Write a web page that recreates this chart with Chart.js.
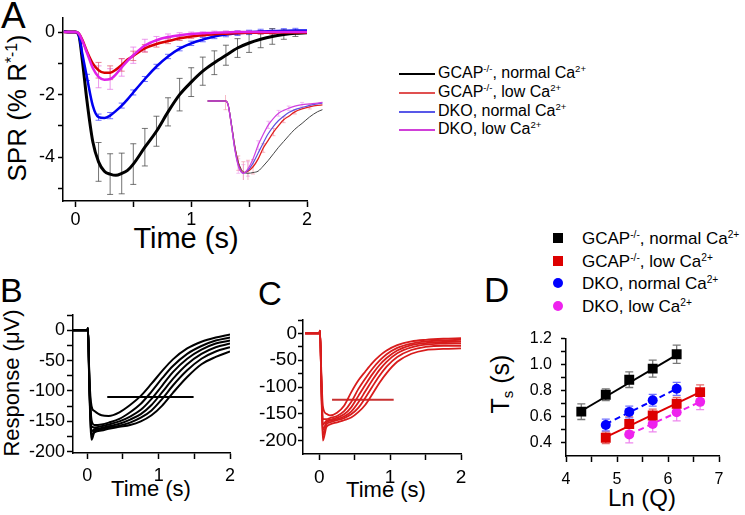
<!DOCTYPE html>
<html>
<head>
<meta charset="utf-8">
<script src="https://cdn.jsdelivr.net/npm/chart.js@4.4.0/dist/chart.umd.min.js"></script>
<style>
  body { margin: 0; width: 745px; height: 515px; overflow: hidden; position: relative; background: #fff;
         font-family: "Liberation Sans", Arial, Helvetica, sans-serif; color: #000; }
  canvas { position: absolute; }
  .t { position: absolute; white-space: nowrap; line-height: 1; }
  .rot { transform: translate(-50%, -50%) rotate(-90deg); }
  sup { font-size: 0.6em; vertical-align: 0.6em; line-height: 0; }
  sub { font-size: 0.6em; vertical-align: -0.3em; line-height: 0; }
  .ln { position: absolute; left: 399px; width: 36px; height: 1.5px; }
  .mk { position: absolute; width: 10px; height: 10px; }
</style>
</head>
<body>
<!-- panel letters -->
<div class="t" style="left:1px;top:-3px;font-size:37px">A</div>
<div class="t" style="left:0px;top:273px;font-size:34px">B</div>
<div class="t" style="left:258px;top:277px;font-size:33px">C</div>
<div class="t" style="left:484px;top:272px;font-size:35px">D</div>

<!-- axis titles -->
<div class="t rot" style="left:17px;top:108px;font-size:26px">SPR (% R<sup>*-1</sup>)</div>
<div class="t" style="left:86px;top:224px;width:200px;text-align:center;font-size:29px">Time (s)</div>
<div class="t rot" style="left:12px;top:383px;font-size:22px">Response (μV)</div>
<div class="t" style="left:51px;top:478px;width:200px;text-align:center;font-size:22px">Time (s)</div>
<div class="t" style="left:286px;top:479px;width:200px;text-align:center;font-size:22px">Time (s)</div>
<div class="t" style="left:542px;top:486px;width:200px;text-align:center;font-size:24px">Ln (Q)</div>
<div class="t rot" style="left:500px;top:384px;font-size:25px">T<sub>s</sub> (s)</div>

<!-- legend A -->
<div class="ln" style="top:73px;background:#000"></div>
<div class="t" style="left:438px;top:65px;font-size:16px">GCAP<sup>-/-</sup>, normal Ca<sup>2+</sup></div>
<div class="ln" style="top:92px;background:#e05050"></div>
<div class="t" style="left:438px;top:84px;font-size:16px">GCAP<sup>-/-</sup>, low Ca<sup>2+</sup></div>
<div class="ln" style="top:111px;background:#5858e8"></div>
<div class="t" style="left:438px;top:103px;font-size:16px">DKO, normal Ca<sup>2+</sup></div>
<div class="ln" style="top:129px;background:#d040d8"></div>
<div class="t" style="left:438px;top:121px;font-size:16px">DKO, low Ca<sup>2+</sup></div>

<!-- legend D -->
<div class="mk" style="left:553px;top:233px;background:#000"></div>
<div class="t" style="left:582px;top:230px;font-size:17px">GCAP<sup>-/-</sup>, normal Ca<sup>2+</sup></div>
<div class="mk" style="left:553px;top:256px;background:#dd0000"></div>
<div class="t" style="left:582px;top:253px;font-size:17px">GCAP<sup>-/-</sup>, low Ca<sup>2+</sup></div>
<div class="mk" style="left:553px;top:278px;background:#0000ff;border-radius:50%"></div>
<div class="t" style="left:582px;top:275px;font-size:17px">DKO, normal Ca<sup>2+</sup></div>
<div class="mk" style="left:553px;top:301px;background:#ee22ee;border-radius:50%"></div>
<div class="t" style="left:582px;top:298px;font-size:17px">DKO, low Ca<sup>2+</sup></div>

<canvas id="chartA" width="330" height="232" style="left:0;top:0"></canvas>
<canvas id="chartInset" width="125" height="85" style="left:200px;top:95px"></canvas>
<canvas id="chartB" width="250" height="185" style="left:0;top:300px"></canvas>
<canvas id="chartC" width="230" height="185" style="left:255px;top:300px"></canvas>
<canvas id="chartD" width="225" height="170" style="left:520px;top:320px"></canvas>

<script>
// ---- Panel A: single photon responses (% R*-1) ----
const tA = [-0.1, -0.05, 0, 0.03, 0.06, 0.1, 0.15, 0.2, 0.25, 0.3, 0.35, 0.4, 0.45, 0.5, 0.6, 0.7,
            0.8, 0.9, 1.0, 1.1, 1.2, 1.3, 1.4, 1.5, 1.6, 1.7, 1.8, 1.9, 2.0];
const gcapNormal = [0.02, 0, 0, -0.1, -0.9, -2.2, -3.5, -4.15, -4.45, -4.54, -4.58, -4.52, -4.42, -4.22, -3.68, -3.17,
                    -2.55, -2.0, -1.6, -1.25, -0.98, -0.74, -0.51, -0.35, -0.23, -0.14, -0.08, -0.04, -0.02];
const gcapNormalErr = [null, null, null, null, null, null, null, 0.62, null, 0.65, null, 0.65, null, 0.65, 0.6, 0.48,
                       0.45, 0.52, 0.46, 0.45, 0.38, 0.32, 0.3, 0.3, 0.27, 0.25, 0.15, 0.1, null];
const gcapLow = [0, 0, 0, -0.05, -0.25, -0.62, -1.0, -1.22, -1.3, -1.3, -1.2, -1.05, -0.88, -0.76, -0.52, -0.38,
                 -0.29, -0.2, -0.14, -0.1, -0.07, -0.05, -0.03, -0.02, -0.02, -0.02, -0.01, -0.01, -0.01];
const gcapLowErr = [null, null, null, null, null, null, null, 0.25, null, 0.22, null, 0.2, null, 0.15, 0.12, 0.1,
                    0.08, 0.07, 0.06, 0.05, 0.05, 0.05, 0.05, 0.05, 0.05, 0.05, 0.05, 0.05, null];
const dkoNormal = [0.02, 0, 0, -0.1, -0.7, -1.45, -2.35, -2.72, -2.75, -2.67, -2.52, -2.35, -2.15, -1.93, -1.5, -1.1,
                   -0.78, -0.53, -0.36, -0.24, -0.14, -0.08, -0.04, -0.01, 0.02, 0.03, 0.04, 0.05, 0.05];
const dkoNormalErr = [null, null, null, null, null, 0.1, null, 0.1, null, 0.1, null, 0.08, null, 0.08, 0.08, 0.07,
                      0.07, 0.07, 0.07, 0.07, 0.07, 0.07, 0.07, 0.07, 0.07, 0.07, 0.07, 0.07, null];
const dkoLow = [0, 0, 0, -0.05, -0.28, -0.66, -1.15, -1.43, -1.52, -1.5, -1.35, -1.13, -0.92, -0.74, -0.43, -0.26,
                -0.16, -0.1, -0.06, -0.04, -0.02, -0.01, 0, 0, 0, 0, 0, 0, 0];
const dkoLowErr = [null, null, null, null, null, null, null, 0.35, null, 0.33, null, 0.28, null, 0.26, 0.2, 0.12,
                   0.1, 0.08, 0.06, 0.05, 0.05, 0.05, 0.05, 0.05, 0.05, 0.05, 0.05, 0.05, null];

// inset: normalised responses
const tInset = [-0.35, -0.2, 0, 0.05, 0.12, 0.18, 0.25, 0.35, 0.44, 0.54, 0.64, 0.74, 0.84, 0.94, 1.04,
                1.14, 1.24, 1.36, 1.5, 1.65, 1.8, 1.9];
const insetGcapNormal = [0, 0, 0, -0.05, -0.33, -0.61, -0.84, -0.98, -1.0, -0.99, -0.97, -0.9, -0.82, -0.73, -0.64,
                         -0.56, -0.48, -0.39, -0.31, -0.22, -0.15, -0.12];
const insetGcapLow = [0, 0, 0, -0.05, -0.35, -0.63, -0.86, -0.99, -0.97, -0.91, -0.8, -0.65, -0.54, -0.43, -0.34,
                      -0.26, -0.21, -0.15, -0.11, -0.08, -0.06, -0.055];
const insetGcapLowErr = [null, null, 0.12, null, null, null, 0.1, 0.15, 0.15, 0.1, null, 0.06, null, 0.05, null,
                         0.04, null, 0.03, null, 0.03, null, null];
const insetDkoNormal = [0, 0, 0, -0.05, -0.35, -0.65, -0.88, -1.0, -0.96, -0.86, -0.72, -0.58, -0.45, -0.35, -0.27,
                        -0.21, -0.16, -0.12, -0.09, -0.06, -0.04, -0.03];
const insetDkoLow = [0, 0, 0, -0.05, -0.36, -0.66, -0.9, -1.0, -0.94, -0.8, -0.61, -0.46, -0.33, -0.24, -0.17,
                     -0.13, -0.1, -0.07, -0.05, -0.04, -0.03, -0.02];
const insetDkoLowErr = [null, null, null, null, null, null, 0.1, 0.12, 0.1, null, 0.06, null, 0.05, null, 0.04,
                        null, 0.03, null, 0.03, null, null, null];

// ---- Panel B: GCAP-/- flash responses (uV), normal Ca ----
const tB = [-0.2, 0, 0.01, 0.03, 0.06, 0.1, 0.2, 0.3, 0.45, 0.6, 0.75, 0.9, 1.05, 1.2, 1.4, 1.6, 1.8, 2.0];
const respB1 = [0, 0, 3, -80, -125, -133, -140, -141, -135, -123, -108, -88, -67, -48, -30, -19, -12, -7];
const respB2 = [0, 0, 3, -85, -148, -156, -155, -152, -146, -135, -121, -101, -79, -59, -39, -26, -17, -12];
const respB3 = [0, 0, 3, -90, -158, -160, -158, -155, -150, -142, -131, -113, -91, -69, -47, -32, -22, -17];
const respB4 = [0, 0, 3, -95, -166, -163, -161, -158, -154, -147, -138, -123, -102, -80, -56, -39, -28, -22];
const respB5 = [0, 0, 3, -95, -173, -166, -163, -160, -157, -152, -144, -132, -113, -91, -66, -47, -35, -28];
const respB6 = [0, 0, 3, -100, -180, -168, -165, -162, -159, -156, -150, -140, -124, -103, -77, -56, -44, -35];
const critB = [[0.28, -110], [1.49, -110]];

// ---- Panel C: GCAP-/- flash responses (uV), low Ca ----
const tC = [-0.2, 0, 0.01, 0.03, 0.05, 0.1, 0.15, 0.25, 0.35, 0.45, 0.55, 0.65, 0.75, 0.85, 0.95, 1.1, 1.3, 1.5, 1.75, 2.0];
const respC1 = [0, 0, 5, -80, -135, -150, -153, -148, -135, -110, -88, -71, -55, -42, -32, -22, -15, -12, -10, -9];
const respC2 = [0, 0, 5, -90, -160, -160, -158, -154, -145, -128, -104, -84, -66, -51, -39, -27, -19, -15, -13, -12];
const respC3 = [0, 0, 5, -95, -170, -163, -161, -157, -151, -138, -117, -96, -76, -59, -46, -32, -22, -18, -16, -15.5];
const respC4 = [0, 0, 5, -100, -180, -166, -163, -160, -155, -146, -129, -108, -87, -68, -53, -37, -26, -21, -19, -18.5];
const respC5 = [0, 0, 5, -100, -190, -170, -166, -162, -158, -151, -139, -120, -99, -79, -62, -44, -31, -25, -23, -23];
const respC6 = [0, 0, 5, -105, -200, -175, -170, -166, -162, -157, -147, -133, -113, -92, -74, -53, -38, -31, -29, -28];
const critC = [[0.18, -124], [1.05, -124]];

// ---- Panel D: saturation time vs Ln(Q) ----
const lnQGcapNormal = [4.3, 4.78, 5.24, 5.7, 6.17];
const tsGcapNormal = [0.64, 0.77, 0.885, 0.97, 1.08];
const tsGcapNormalErr = [0.06, 0.045, 0.06, 0.065, 0.07];
const lnQGcapLow = [4.78, 5.24, 5.7, 6.17, 6.63];
const tsGcapLow = [0.44, 0.545, 0.61, 0.7, 0.79];
const tsGcapLowErr = [0.045, 0.055, 0.05, 0.05, 0.055];
const lnQDkoNormal = [4.78, 5.24, 5.7, 6.17];
const tsDkoNormal = [0.537, 0.638, 0.728, 0.815];
const tsDkoNormalErr = [0.045, 0.045, 0.045, 0.05];
const lnQDkoLow = [5.24, 5.7, 6.17, 6.63];
const tsDkoLow = [0.465, 0.545, 0.635, 0.715];
const tsDkoLowErr = [0.065, 0.06, 0.065, 0.06];
const fitGcapNormal = [[4.3, 0.645], [6.17, 1.075]];
const fitGcapLow = [[4.78, 0.445], [6.63, 0.79]];
const fitDkoNormal = [[4.78, 0.545], [6.17, 0.815]];
const fitDkoLow = [[5.24, 0.465], [6.63, 0.715]];

// ticks
const ticksTimeAX = [0, 0.5, 1, 1.5, 2], labelsTimeAX = [0, 1, 2];
const ticksSprY = [-5, -4, -3, -2, -1, 0], labelsSprY = [0, -2, -4];
const ticksTimeBX = [0, 0.5, 1, 1.5, 2], labelsTimeBX = [0, 1, 2];
const ticksRespY = [25, 0, -25, -50, -75, -100, -125, -150, -175, -200], labelsRespY = [0, -50, -100, -150, -200];
const ticksLnQ = [4, 4.5, 5, 5.5, 6, 6.5, 7], labelsLnQ = [4, 5, 6, 7];
const ticksTs = [0.4, 0.5, 0.6, 0.7, 0.8, 0.9, 1.0, 1.1, 1.2], labelsTs = [0.4, 0.6, 0.8, 1.0, 1.2];

Chart.defaults.font.family = "'Liberation Sans', Arial, Helvetica, sans-serif";
Chart.defaults.color = '#000';
Chart.defaults.animation = false;
Chart.defaults.plugins.legend.display = false;
Chart.defaults.plugins.tooltip.enabled = false;

const pts = (xs, ys) => xs.map((x, i) => ({ x, y: ys[i] }));
const pairs = arr => arr.map(p => ({ x: p[0], y: p[1] }));

// vertical error bars with caps, drawn under the datasets
const errorBars = {
  id: 'errorBars',
  beforeDatasetsDraw(chart) {
    const ctx = chart.ctx;
    const y = chart.scales.y;
    chart.data.datasets.forEach((ds, i) => {
      if (!ds.errors) return;
      const meta = chart.getDatasetMeta(i);
      ctx.save();
      ctx.strokeStyle = ds.errorColor;
      ctx.lineWidth = ds.errorWidth || 1;
      meta.data.forEach((pt, j) => {
        const e = ds.errors[j];
        if (e == null) return;
        const v = ds.data[j].y;
        const top = y.getPixelForValue(v + e);
        const bot = y.getPixelForValue(v - e);
        const w = ds.capWidth || 3;
        ctx.beginPath();
        ctx.moveTo(pt.x, top); ctx.lineTo(pt.x, bot);
        ctx.moveTo(pt.x - w, top); ctx.lineTo(pt.x + w, top);
        ctx.moveTo(pt.x - w, bot); ctx.lineTo(pt.x + w, bot);
        ctx.stroke();
      });
      ctx.restore();
    });
  }
};

// size = fixed axis box width/height; tick = tick mark length; pad = gap to the labels
function axis(min, max, tickVals, labelVals, size, fontSize, tick, pad, fmt) {
  return {
    type: 'linear', min, max,
    afterBuildTicks: s => { s.ticks = tickVals.map(v => ({ value: v })); },
    afterFit: s => { if (s.isHorizontal()) s.height = size; else s.width = size; },
    ticks: {
      autoSkip: false, maxRotation: 0, padding: pad, color: '#000',
      font: { size: fontSize },
      callback: v => labelVals.includes(v) ? (fmt ? fmt(v) : String(v)) : ''
    },
    grid: { drawOnChartArea: false, tickLength: tick, tickWidth: 1.5, tickColor: '#000' },
    border: { color: '#000', width: 1.5 }
  };
}

function curve(xs, ys, color, width, extra) {
  return Object.assign({
    data: pts(xs, ys), borderColor: color, borderWidth: width, pointRadius: 0,
    cubicInterpolationMode: 'monotone', fill: false
  }, extra || {});
}

function plot(id, datasets, x, y, padding) {
  return new Chart(document.getElementById(id), {
    type: 'line',
    data: { datasets },
    options: {
      responsive: false, devicePixelRatio: 1, events: [],
      layout: { padding },
      scales: { x, y }
    },
    plugins: [errorBars]
  });
}

// Panel A
plot('chartA', [
  curve(tA, dkoLow, '#e020e8', 2.5, { errors: dkoLowErr, errorColor: 'rgba(230,120,230,0.75)', capWidth: 3 }),
  curve(tA, gcapLow, '#d80000', 2.5, { errors: gcapLowErr, errorColor: 'rgba(225,90,110,0.75)', capWidth: 3 }),
  curve(tA, dkoNormal, '#0000f0', 2.5, { errors: dkoNormalErr, errorColor: 'rgba(90,90,255,0.85)', capWidth: 3 }),
  curve(tA, gcapNormal, '#000', 3, { errors: gcapNormalErr, errorColor: 'rgba(70,70,70,0.75)', capWidth: 3 })
], axis(-0.107, 2, ticksTimeAX, labelsTimeAX, 31, 18, 6, 2),
   axis(-5.4, 0.45, ticksSprY, labelsSprY, 63, 18, 5, 3),
   { left: 0, top: 18, right: 23, bottom: 0 });

// Inset in A
new Chart(document.getElementById('chartInset'), {
  type: 'line',
  data: {
    datasets: [
      curve(tInset, insetDkoLow, '#d040e0', 1.2, { errors: insetDkoLowErr, errorColor: 'rgba(235,150,235,0.6)', capWidth: 2 }),
      curve(tInset, insetDkoNormal, '#6050e0', 1.2),
      curve(tInset, insetGcapLow, '#e02020', 1.3, { errors: insetGcapLowErr, errorColor: 'rgba(240,140,160,0.6)', capWidth: 2 }),
      curve(tInset, insetGcapNormal, '#444', 1)
    ]
  },
  options: {
    responsive: false, devicePixelRatio: 1, events: [],
    layout: { padding: 0 },
    scales: {
      x: { type: 'linear', display: false, min: -0.5, max: 1.95 },
      y: { type: 'linear', display: false, min: -1.093, max: 0.083 }
    }
  },
  plugins: [errorBars]
});

// Panel B
const bColor = '#000';
plot('chartB', [
  curve(tB, respB1, bColor, 2), curve(tB, respB2, bColor, 2), curve(tB, respB3, bColor, 2),
  curve(tB, respB4, bColor, 2), curve(tB, respB5, bColor, 2), curve(tB, respB6, bColor, 2),
  { data: pairs(critB), borderColor: bColor, borderWidth: 2, pointRadius: 0 }
], axis(-0.2, 2, ticksTimeBX, labelsTimeBX, 32, 18, 6, 6),
   axis(-202, 25, ticksRespY, labelsRespY, 73, 18, 6, 2),
   { left: 0, top: 15, right: 20, bottom: 0 });

// Panel C
const cColor = '#d81c1c';
plot('chartC', [
  curve(tC, respC1, cColor, 1.8), curve(tC, respC2, cColor, 1.8), curve(tC, respC3, cColor, 1.8),
  curve(tC, respC4, cColor, 1.8), curve(tC, respC5, cColor, 1.8), curve(tC, respC6, cColor, 1.8),
  { data: pairs(critC), borderColor: '#c83030', borderWidth: 2, pointRadius: 0 }
], axis(-0.23, 2, ticksTimeBX, labelsTimeBX, 31, 19, 6, 6),
   axis(-225, 25, ticksRespY, labelsRespY, 48, 19, 5, 1),
   { left: 0, top: 20, right: 24, bottom: 0 });

// Panel D
const marker = (xs, ys, errs, color, errColor, style, r) => ({
  data: pts(xs, ys), showLine: false, pointStyle: style, pointRadius: r,
  backgroundColor: color, borderColor: color, borderWidth: 0,
  errors: errs, errorColor: errColor, errorWidth: 1.3, capWidth: 4
});
const fit = (p, color, dash) => ({
  data: pairs(p), borderColor: color, borderWidth: 2, pointRadius: 0, borderDash: dash
});
plot('chartD', [
  marker(lnQGcapNormal, tsGcapNormal, tsGcapNormalErr, '#000', '#777', 'rect', 7),
  marker(lnQGcapLow, tsGcapLow, tsGcapLowErr, '#dd0000', '#e36a6a', 'rect', 7),
  marker(lnQDkoNormal, tsDkoNormal, tsDkoNormalErr, '#0000ff', '#7070ff', 'circle', 5),
  marker(lnQDkoLow, tsDkoLow, tsDkoLowErr, '#ee22ee', '#ee88ee', 'circle', 5),
  fit(fitGcapNormal, '#000', []),
  fit(fitGcapLow, '#dd0000', []),
  fit(fitDkoNormal, '#0000ff', [6, 4]),
  fit(fitDkoLow, '#ee22ee', [6, 4])
], axis(4, 7, ticksLnQ, labelsLnQ, 34, 16, 6, 8),
   axis(0.3, 1.2, ticksTs, labelsTs, 46, 16, 5, 9, v => v.toFixed(1)),
   { left: 0, top: 11, right: 26, bottom: 0 });
</script>
</body>
</html>
